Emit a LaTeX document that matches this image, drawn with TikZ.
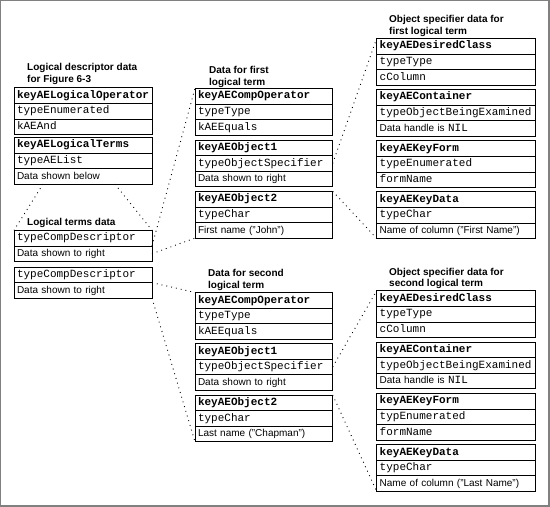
\documentclass[tikz,border=0pt]{standalone}
\usepackage{fontspec}
\setmainfont{Liberation Sans}
\setmonofont{Liberation Mono}
\usetikzlibrary{calc}
\definecolor{framegray}{RGB}{128,128,128}
\tikzset{
  cell/.style={draw, line width=0.8pt, anchor=north west, outer sep=0pt,
    inner xsep=3pt, inner ysep=0pt, minimum height=15.6pt, align=left,
    text height=8pt, text depth=2.5pt},
  code/.style={cell, font=\fontsize{11}{13}\ttfamily},
  hdr/.style={cell, font=\fontsize{11}{13}\ttfamily\bfseries},
  plain/.style={cell, font=\fontsize{10}{12}\selectfont},
  lcol/.style={text width=132pt},
  mcol/.style={text width=131.7pt},
  rcol/.style={text width=153pt},
  grptitle/.style={anchor=north west, inner sep=0pt, align=left,
    font=\fontsize{10}{11.5}\selectfont\bfseries},
  conn/.style={line width=0.9pt, dash pattern=on 0.9pt off 4pt},
}
\newcommand\tribox[8]{%
  \node[hdr,#3] (#1-1) at #2 {#4};
  \node[#5,#3] (#1-2) at (#1-1.south west) {#6};
  \node[#7,#3] (#1-3) at (#1-2.south west) {#8};
}
\newcommand\duobox[4]{%
  \node[code,#3] (#1-1) at #2 {#4};
  \node[plain,#3] (#1-2) at (#1-1.south west) {Data shown to right};
}
\newcommand\nilword{{\fontsize{11}{13}\ttfamily NIL}}
\begin{document}
\begin{tikzpicture}[x=1pt,y=-1pt]
\useasboundingbox (0,0) rectangle (550,507);
\fill[framegray] (0,0) rectangle (550,507);
\fill[white] (1.2,1.2) rectangle (548.3,505);

% titles
\node[grptitle] (tL) at (27,63.5) {Logical descriptor data\\for Figure 6-3};
\node[grptitle] (tLT) at (27,218.2) {Logical terms data};
\node[grptitle] (tM1) at (209,66.2) {Data for first\\logical term};
\node[grptitle] (tM2) at (208,269.5) {Data for second\\logical term};
\node[grptitle] (tR1) at (389,15.2) {Object specifier data for\\first logical term};
\node[grptitle] (tR2) at (389,267.9) {Object specifier data for\\second logical term};

% left column
\tribox{lo}{(14,87.7)}{lcol}{keyAELogicalOperator}{code}{typeEnumerated}{code}{kAEAnd}
\tribox{lt}{(14,137.3)}{lcol}{keyAELogicalTerms}{code}{typeAEList}{plain}{Data shown below}
\duobox{cda}{(14,230.3)}{lcol}{typeCompDescriptor}
\duobox{cdb}{(14,267)}{lcol}{typeCompDescriptor}

% middle column, first term
\tribox{ma}{(195,88.3)}{mcol}{keyAECompOperator}{code}{typeType}{code}{kAEEquals}
\tribox{mb}{(195,140)}{mcol}{keyAEObject1}{code}{typeObjectSpecifier}{plain}{Data shown to right}
\tribox{mc}{(195,191.3)}{mcol}{keyAEObject2}{code}{typeChar}{plain}{First name ("John")}

% middle column, second term
\tribox{na}{(195,292.5)}{mcol}{keyAECompOperator}{code}{typeType}{code}{kAEEquals}
\tribox{nb}{(195,343.5)}{mcol}{keyAEObject1}{code}{typeObjectSpecifier}{plain}{Data shown to right}
\tribox{nc}{(195,395)}{mcol}{keyAEObject2}{code}{typeChar}{plain}{Last name ("Chapman")}

% right column, first term
\tribox{ra}{(376.7,38.3)}{rcol}{keyAEDesiredClass}{code}{typeType}{code}{cColumn}
\tribox{rb}{(376.7,89.3)}{rcol}{keyAEContainer}{code}{typeObjectBeingExamined}{plain}{Data handle is \nilword}
\tribox{rc}{(376.7,140.7)}{rcol}{keyAEKeyForm}{code}{typeEnumerated}{code}{formName}
\tribox{rd}{(376.7,191.7)}{rcol}{keyAEKeyData}{code}{typeChar}{plain}{Name of column ("First Name")}

% right column, second term
\tribox{sa}{(376.7,290.7)}{rcol}{keyAEDesiredClass}{code}{typeType}{code}{cColumn}
\tribox{sb}{(376.7,342)}{rcol}{keyAEContainer}{code}{typeObjectBeingExamined}{plain}{Data handle is \nilword}
\tribox{sc}{(376.7,393.3)}{rcol}{keyAEKeyForm}{code}{typEnumerated}{code}{formName}
\tribox{sd}{(376.7,444.6)}{rcol}{keyAEKeyData}{code}{typeChar}{plain}{Name of column ("Last Name")}

% dotted connectors
\draw[conn] ($(lt-3.south west)+(29,0)$) -- (cda-1.north west);
\draw[conn] ($(lt-3.south west)+(101,0)$) -- (cda-1.north east);
\draw[conn] (cda-1.south east) -- (ma-1.north west);
\draw[conn] (cda-2.east) -- (mc-3.south west);
\draw[conn] (cdb-1.south east) -- (na-1.north west);
\draw[conn] (cdb-2.south east) -- (nc-3.south west);
\draw[conn] (mb-2.east) -- (ra-1.north west);
\draw[conn] (mc-1.north east) -- (rd-3.south west);
\draw[conn] (nb-2.east) -- (sa-1.north west);
\draw[conn] (nc-1.north east) -- (sd-3.south west);
\end{tikzpicture}
\end{document}
